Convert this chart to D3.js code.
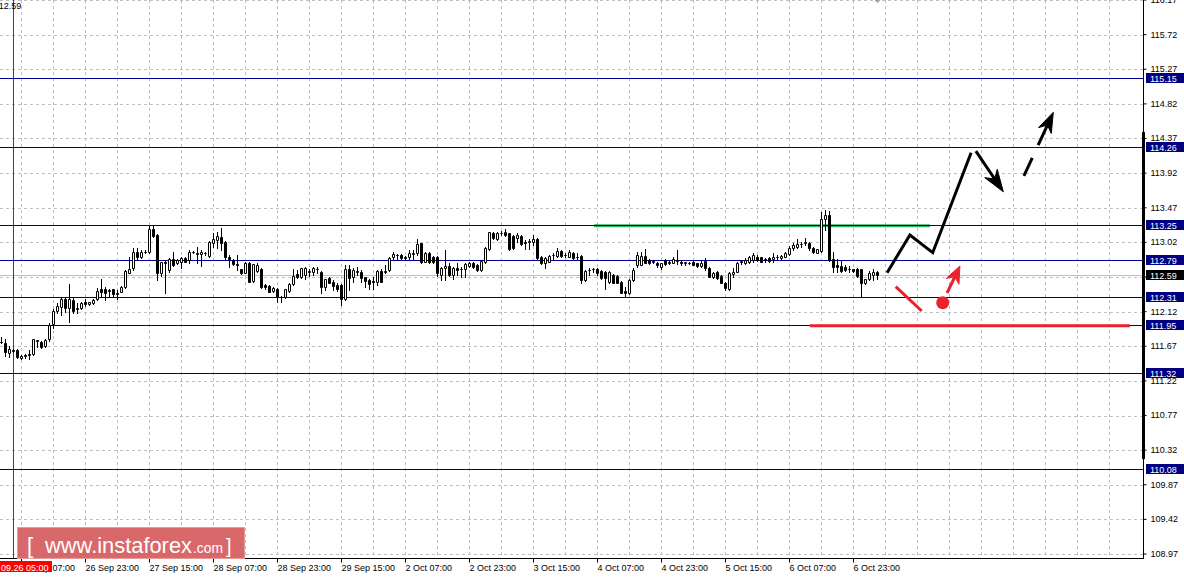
<!DOCTYPE html>
<html><head><meta charset="utf-8">
<script src="https://cdn.jsdelivr.net/npm/d3@7"></script>
<style>
html,body{margin:0;padding:0;background:#fff;overflow:hidden;}
svg{display:block;font-family:"Liberation Sans",Arial,sans-serif;}
</style></head><body>
<svg id="c" width="1184" height="578"></svg>
<script>
// ---------------- DATA ----------------
const priceTicks = [116.17,115.72,115.27,114.82,114.37,113.92,113.47,113.02,112.57,112.12,111.67,111.22,110.77,110.32,109.87,109.42,108.97];
const levels = [115.15,114.26,113.25,112.79,112.31,111.95,111.32,110.08];
const currentPrice = 112.59;
const timeLabels = ["26 Sep 07:00","26 Sep 23:00","27 Sep 15:00","28 Sep 07:00","28 Sep 23:00","29 Sep 15:00","2 Oct 07:00","2 Oct 23:00","3 Oct 15:00","4 Oct 07:00","4 Oct 23:00","5 Oct 15:00","6 Oct 07:00","6 Oct 23:00"];
const timeLabelBars = [5,21,37,53,69,85,101,117,133,149,165,181,197,213];
const cursorBar = 3;
const cursorLabel = "09.26 05:00";
const axisRangeBar = [114.454,110.204];
// hourly candles: [open, high, low, close]
const ohlc = [
[111.73,111.79,111.71,111.72],[111.716,111.76,111.543,111.60],[111.586,111.673,111.535,111.63],[111.62,111.64,111.59,111.61],
[111.621,111.63,111.517,111.526],[111.513,111.56,111.50,111.548],[111.55,111.57,111.52,111.54],[111.567,111.62,111.50,111.55],
[111.569,111.77,111.56,111.76],[111.74,111.75,111.665,111.745],[111.725,111.74,111.65,111.665],[111.673,111.76,111.66,111.751],
[111.76,111.976,111.743,111.946],[111.955,112.158,111.903,112.128],[112.133,112.228,112.098,112.193],[112.176,112.306,112.076,112.28],
[112.28,112.31,112.12,112.163],[112.163,112.479,111.99,112.28],[112.271,112.306,112.106,112.133],[112.163,112.228,112.098,112.15],
[112.163,112.25,112.15,112.236],[112.25,112.28,112.193,112.215],[112.22,112.25,112.21,112.24],[112.228,112.28,112.22,112.271],
[112.28,112.423,112.271,112.392],[112.414,112.54,112.314,112.379],[112.414,112.44,112.27,112.366],[112.40,112.42,112.31,112.39],
[112.41,112.42,112.31,112.35],[112.36,112.40,112.28,112.35],[112.38,112.45,112.37,112.444],[112.444,112.66,112.43,112.648],
[112.626,112.826,112.618,112.67],[112.683,112.943,112.661,112.899],[112.899,112.951,112.80,112.834],[112.834,112.92,112.82,112.899],
[112.89,112.92,112.88,112.90],[112.891,113.233,112.878,113.19],[113.19,113.246,113.094,113.107],[113.116,113.13,112.531,112.626],
[112.626,112.77,112.583,112.769],[112.76,112.79,112.366,112.75],[112.661,112.812,112.64,112.80],[112.80,112.90,112.713,112.726],
[112.748,112.80,112.74,112.79],[112.77,112.834,112.683,112.813],[112.821,112.83,112.76,112.77],[112.791,112.921,112.756,112.899],
[112.90,112.91,112.88,112.893],[112.877,112.964,112.748,112.87],[112.865,112.921,112.713,112.899],[112.88,112.89,112.86,112.877],
[112.843,113.04,112.83,113.029],[113.016,113.138,112.964,113.06],[113.051,113.159,112.943,113.107],[113.094,113.203,112.921,113.016],
[113.029,113.04,112.81,112.826],[112.826,112.856,112.704,112.81],[112.791,112.80,112.72,112.735],[112.74,112.856,112.661,112.73],
[112.67,112.68,112.61,112.618],[112.626,112.76,112.62,112.748],[112.748,112.76,112.50,112.51],[112.518,112.74,112.51,112.735],
[112.648,112.748,112.64,112.726],[112.674,112.69,112.43,112.444],[112.466,112.48,112.42,112.436],[112.453,112.46,112.37,112.379],
[112.392,112.44,112.38,112.431],[112.41,112.423,112.25,112.314],[112.316,112.32,112.25,112.31],[112.314,112.42,112.30,112.41],
[112.392,112.49,112.38,112.479],[112.479,112.67,112.466,112.583],[112.609,112.66,112.56,112.574],[112.566,112.69,112.56,112.683],
[112.597,112.70,112.55,112.683],[112.64,112.68,112.58,112.645],[112.64,112.704,112.60,112.683],[112.68,112.70,112.62,112.67],
[112.64,112.65,112.358,112.436],[112.436,112.55,112.40,112.54],[112.553,112.566,112.488,112.496],[112.51,112.53,112.40,112.453],
[112.466,112.488,112.392,112.41],[112.466,112.48,112.206,112.28],[112.28,112.726,112.27,112.67],[112.67,112.726,112.40,112.553],
[112.566,112.683,112.51,112.661],[112.64,112.70,112.60,112.645],[112.64,112.66,112.51,112.553],[112.566,112.575,112.436,112.52],
[112.53,112.55,112.42,112.48],[112.52,112.566,112.42,112.50],[112.51,112.66,112.466,112.652],[112.652,112.67,112.50,112.51],
[112.63,112.726,112.618,112.65],[112.661,112.834,112.65,112.813],[112.826,112.90,112.81,112.865],[112.85,112.87,112.79,112.855],
[112.856,112.87,112.80,112.813],[112.826,112.84,112.80,112.82],[112.826,112.92,112.81,112.886],[112.87,112.92,112.81,112.88],
[112.878,113.06,112.856,112.995],[113.008,113.016,112.756,112.77],[112.77,112.89,112.76,112.886],[112.886,112.90,112.748,112.77],
[112.834,112.843,112.748,112.77],[112.834,112.843,112.583,112.618],[112.596,112.70,112.53,112.683],[112.683,112.921,112.53,112.713],
[112.713,112.748,112.583,112.596],[112.596,112.704,112.54,112.683],[112.683,112.756,112.60,112.661],[112.67,112.704,112.575,112.675],
[112.67,112.756,112.575,112.74],[112.713,112.77,112.70,112.756],[112.756,112.77,112.69,112.704],[112.726,112.74,112.65,112.661],
[112.661,112.79,112.65,112.778],[112.77,112.964,112.748,112.943],[112.93,113.16,112.921,113.159],[113.146,113.159,113.06,113.073],
[113.06,113.159,113.05,113.146],[113.146,113.172,113.116,113.14],[113.159,113.19,113.10,113.116],[113.138,113.146,112.921,112.93],
[113.10,113.11,112.93,112.943],[113.073,113.146,113.03,113.116],[113.10,113.11,112.99,112.998],[113.02,113.05,112.93,113.016],
[113.03,113.06,112.93,113.035],[113.03,113.116,112.99,113.06],[113.06,113.073,112.80,112.813],[112.826,112.843,112.74,112.756],
[112.748,112.834,112.69,112.813],[112.77,112.85,112.76,112.843],[112.856,112.886,112.80,112.86],[112.843,112.943,112.834,112.908],
[112.908,112.92,112.834,112.843],[112.856,112.88,112.826,112.85],[112.834,112.92,112.826,112.899],[112.886,112.89,112.80,112.813],
[112.834,112.886,112.80,112.83],[112.843,112.85,112.496,112.531],[112.531,112.66,112.52,112.652],[112.66,112.683,112.60,112.665],
[112.67,112.69,112.64,112.675],[112.67,112.683,112.60,112.626],[112.652,112.66,112.54,112.553],[112.64,112.652,112.41,112.553],
[112.51,112.652,112.496,112.64],[112.596,112.61,112.488,112.496],[112.583,112.59,112.49,112.496],[112.51,112.52,112.358,112.366],
[112.392,112.444,112.306,112.358],[112.366,112.54,112.35,112.531],[112.531,112.683,112.52,112.661],[112.726,112.899,112.704,112.856],
[112.726,112.899,112.72,112.843],[112.843,112.93,112.748,112.756],[112.791,112.80,112.74,112.748],[112.77,112.79,112.748,112.775],
[112.756,112.77,112.704,112.726],[112.704,112.756,112.67,112.748],[112.791,112.80,112.726,112.735],[112.756,112.78,112.74,112.76],
[112.756,112.834,112.748,112.80],[112.78,112.92,112.74,112.785],[112.77,112.78,112.726,112.748],[112.756,112.77,112.726,112.76],
[112.756,112.77,112.74,112.75],[112.77,112.78,112.72,112.726],[112.748,112.756,112.70,112.713],[112.713,112.79,112.704,112.756],
[112.78,112.813,112.661,112.683],[112.683,112.704,112.566,112.574],[112.574,112.64,112.553,112.618],[112.64,112.652,112.54,112.553],
[112.583,112.596,112.488,112.496],[112.488,112.51,112.40,112.423],[112.41,112.64,112.40,112.626],[112.61,112.683,112.566,112.64],
[112.64,112.77,112.63,112.756],[112.77,112.79,112.74,112.775],[112.748,112.813,112.74,112.791],[112.77,112.843,112.756,112.834],
[112.791,112.886,112.77,112.856],[112.834,112.856,112.78,112.791],[112.826,112.834,112.76,112.77],[112.80,112.82,112.77,112.805],
[112.813,112.83,112.77,112.78],[112.80,112.886,112.77,112.834],[112.826,112.856,112.80,112.83],[112.813,112.86,112.80,112.843],
[112.834,112.90,112.826,112.878],[112.869,112.973,112.856,112.943],[112.943,113.016,112.921,112.986],[112.956,113.06,112.943,113.00],
[112.998,113.03,112.964,113.003],[113.016,113.073,112.986,113.02],[113.016,113.03,112.921,112.943],[112.943,112.964,112.886,112.899],
[112.886,112.94,112.878,112.93],[112.913,113.42,112.90,113.32],[113.32,113.44,113.18,113.376],[113.376,113.43,112.78,112.791],
[112.80,112.90,112.64,112.704],[112.726,112.80,112.64,112.704],[112.713,112.79,112.64,112.652],[112.704,112.72,112.65,112.661],
[112.67,112.713,112.64,112.675],[112.67,112.68,112.64,112.652],[112.67,112.683,112.566,112.583],[112.67,112.67,112.306,112.496],
[112.488,112.55,112.48,112.54],[112.54,112.652,112.53,112.618],[112.596,112.67,112.53,112.64],[112.64,112.652,112.55,112.59]
];
// forecast drawings, as [bar index, price]
const greenLine = [[148.1,113.237],[232.1,113.237]];
const redLevelLine = [[202.1,111.937],[282.1,111.937]];
const blackPath = [[221.4,112.626],[227.1,113.116],[232.8,112.886],[242.4,114.185]];
const blackArrow = [[243.6,114.207],[250.45,113.678]];
const dashedArrow = [[255.6,113.883],[262.95,114.71]];
const redSegment = [[223.55,112.444],[230.05,112.128]];
const redDot = [235.3,112.236];
const redArrow = [[236.4,112.362],[239.6,112.713]];

// ---------------- CHART ----------------
const W = 1184, H = 578, axisX = 1143, axisY = 558;
const FONT = '"Liberation Sans",Arial,sans-serif';
const svg = d3.select('#c');
const x = d3.scaleLinear().domain([0, 285]).range([1.5, 1141.5]);
const y = d3.scaleLinear().domain([108.97, 116.17]).range([554, 0]);
const cy = v => Math.round(y(v)) + 0.5;

const grid = svg.append('g').attr('stroke', '#c0c0c0').attr('stroke-dasharray', '3,3').attr('stroke-width', 1);
grid.selectAll('line.h').data(priceTicks).join('line').attr('class','h')
  .attr('x1', 0).attr('x2', axisX).attr('y1', d => cy(d)).attr('y2', d => cy(d));
grid.selectAll('line.v').data(d3.range(5, 282, 8)).join('line').attr('class','v')
  .attr('x1', d => x(d)).attr('x2', d => x(d)).attr('y1', 0).attr('y2', axisY);

// current price line
svg.append('line').attr('x1', 0).attr('x2', axisX).attr('y1', cy(currentPrice)).attr('y2', cy(currentPrice))
  .attr('stroke', '#c0c0c0').attr('stroke-width', 1);

// cursor line
svg.append('line').attr('x1', x(cursorBar)).attr('x2', x(cursorBar)).attr('y1', 0).attr('y2', axisY)
  .attr('stroke', '#e00000').attr('stroke-width', 1);

// green level (under navy)
const line = d3.line().x(d => x(d[0])).y(d => y(d[1]));
svg.append('path').attr('d', line(greenLine)).attr('stroke', '#33b36a').attr('stroke-width', 3).attr('fill', 'none');

// navy levels
svg.append('g').selectAll('line').data(levels).join('line')
  .attr('x1', 0).attr('x2', axisX).attr('y1', d => cy(d)).attr('y2', d => cy(d))
  .attr('stroke', '#000090').attr('stroke-width', 1);

svg.append('path').attr('d', line(redLevelLine)).attr('stroke', '#e8232d').attr('stroke-width', 3).attr('fill', 'none');

// candles
const cg = svg.append('g');
ohlc.forEach((c, i) => {
  const [o, h, l, cl] = c;
  const xc = x(i);
  cg.append('line').attr('x1', xc).attr('x2', xc)
    .attr('y1', Math.round(y(h))).attr('y2', Math.round(y(l)) + 1)
    .attr('stroke', '#000').attr('stroke-width', 1);
  const top = cy(Math.max(o, cl)), bot = cy(Math.min(o, cl));
  cg.append('path').attr('d', `M${xc-1},${top}H${xc+1}V${bot}H${xc-1}Z`)
    .attr('fill', cl >= o ? '#fff' : '#000').attr('stroke', '#000').attr('stroke-width', 1);
});

// forecast drawings
function arrowHead(p0, p1, len, half, color) {
  const a = [x(p0[0]), y(p0[1])], b = [x(p1[0]), y(p1[1])];
  const dx = b[0]-a[0], dy = b[1]-a[1], L = Math.hypot(dx, dy);
  const ux = dx/L, uy = dy/L, nx = -uy, ny = ux;
  const bx = b[0]-ux*len, by = b[1]-uy*len;
  const mx = b[0]-ux*len*0.7, my = b[1]-uy*len*0.7;
  svg.append('path').attr('d', `M${b[0]},${b[1]}L${bx+nx*half},${by+ny*half}L${mx},${my}L${bx-nx*half},${by-ny*half}Z`)
    .attr('fill', color).attr('stroke', color).attr('stroke-width', 1).attr('stroke-linejoin', 'round');
  return [mx, my];
}
svg.append('path').attr('d', line(blackPath)).attr('stroke', '#000').attr('stroke-width', 3).attr('fill', 'none');
{
  const m = arrowHead(blackArrow[0], blackArrow[1], 22, 7.5, '#000');
  svg.append('line').attr('x1', x(blackArrow[0][0])).attr('y1', y(blackArrow[0][1])).attr('x2', m[0]).attr('y2', m[1])
    .attr('stroke', '#000').attr('stroke-width', 3);
}
{
  const m = arrowHead(dashedArrow[0], dashedArrow[1], 20, 7, '#000');
  svg.append('line').attr('x1', x(dashedArrow[0][0])).attr('y1', y(dashedArrow[0][1])).attr('x2', m[0]).attr('y2', m[1])
    .attr('stroke', '#000').attr('stroke-width', 3).attr('stroke-dasharray', '20,14,60');
}
svg.append('path').attr('d', line(redSegment)).attr('stroke', '#e8232d').attr('stroke-width', 3).attr('fill', 'none');
{
  const m = arrowHead(redArrow[0], redArrow[1], 17, 7, '#e8232d');
  svg.append('line').attr('x1', x(redArrow[0][0])).attr('y1', y(redArrow[0][1])).attr('x2', m[0]).attr('y2', m[1])
    .attr('stroke', '#e8232d').attr('stroke-width', 3);
}
svg.append('circle').attr('cx', x(redDot[0])).attr('cy', y(redDot[1])).attr('r', 6.5).attr('fill', '#e8232d');

// small marker at top
svg.append('path').attr('d', `M${x(219)-3},0L${x(219)+3},0L${x(219)},3Z`).attr('fill', '#a0a0a0');

// white area for axes
svg.append('rect').attr('x', axisX+1).attr('y', 0).attr('width', W-axisX-1).attr('height', H).attr('fill', '#fff');
svg.append('rect').attr('x', 0).attr('y', axisY+1).attr('width', W).attr('height', H-axisY-1).attr('fill', '#fff');

// right axis
const ya = svg.append('g').attr('transform', `translate(${axisX+0.5},0)`)
  .call(d3.axisRight(y).tickValues(priceTicks).tickSize(3).tickPadding(4).tickFormat(d3.format('.2f')).offset(0));
ya.select('.domain').remove();
ya.selectAll('text').attr('font-size', 9).attr('font-family', FONT).attr('fill', '#000');
ya.selectAll('line').attr('stroke', '#000');
svg.append('line').attr('x1', axisX+0.5).attr('x2', axisX+0.5).attr('y1', 0).attr('y2', axisY+0.5).attr('stroke', '#000');
svg.append('rect').attr('x', axisX-1).attr('y', y(axisRangeBar[0])).attr('width', 3)
  .attr('height', y(axisRangeBar[1]) - y(axisRangeBar[0])).attr('fill', '#000');

// bottom axis
const xa = svg.append('g').attr('transform', `translate(0,${axisY+0.5})`)
  .call(d3.axisBottom(x).tickValues(timeLabelBars).tickFormat((d, i) => timeLabels[i]).tickSize(4).offset(0));
xa.select('.domain').remove();
xa.selectAll('line').attr('stroke', '#000');
xa.selectAll('text').attr('font-size', 9).attr('font-family', FONT).attr('fill', '#000')
  .attr('text-anchor', 'start').attr('x', 0).attr('y', 12.5).attr('dy', 0);
svg.append('line').attr('x1', 0).attr('x2', axisX+1).attr('y1', axisY+0.5).attr('y2', axisY+0.5).attr('stroke', '#000');

// cursor time label
svg.append('rect').attr('x', 0).attr('y', 561).attr('width', 52).attr('height', 11).attr('fill', '#ff0000');
svg.append('text').attr('x', 1).attr('y', 570.5).attr('font-size', 9).attr('fill', '#fff').text(cursorLabel);

// level price boxes
const boxes = svg.append('g');
levels.forEach(v => {
  const yy = Math.round(y(v));
  boxes.append('rect').attr('x', 1146).attr('y', yy-5).attr('width', 38).attr('height', 10).attr('fill', '#000080');
  boxes.append('text').attr('x', 1150).attr('y', yy+3.5).attr('font-size', 9).attr('fill', '#fff').text(v.toFixed(2));
});
{
  const yy = Math.round(y(currentPrice));
  boxes.append('rect').attr('x', 1146).attr('y', yy-5).attr('width', 38).attr('height', 10).attr('fill', '#000');
  boxes.append('text').attr('x', 1150).attr('y', yy+3.5).attr('font-size', 9).attr('fill', '#fff').text(currentPrice.toFixed(2));
}

// top-left price
svg.append('text').attr('x', -5.5).attr('y', 9).attr('font-size', 9).attr('fill', '#000').text(currentPrice.toFixed(2));

// logo
const lg = svg.append('g');
lg.append('rect').attr('x', 17.5).attr('y', 527.5).attr('width', 227).attr('height', 31)
  .attr('fill', '#d5585b').attr('fill-opacity', 0.9).attr('stroke', '#e79a9a').attr('stroke-width', 1);
lg.append('text').attr('x', 27).attr('y', 553).attr('font-size', 22).attr('fill', '#fff').text('[');
lg.append('text').attr('x', 45).attr('y', 553).attr('font-size', 22).attr('fill', '#fff')
  .attr('textLength', 147).attr('lengthAdjust', 'spacingAndGlyphs').text('www.instaforex');
lg.append('text').attr('x', 193).attr('y', 553).attr('font-size', 15).attr('fill', '#fff')
  .attr('textLength', 30).attr('lengthAdjust', 'spacingAndGlyphs').text('.com');
lg.append('text').attr('x', 226).attr('y', 553).attr('font-size', 20).attr('fill', '#fff').text(']');
</script>
</body></html>
